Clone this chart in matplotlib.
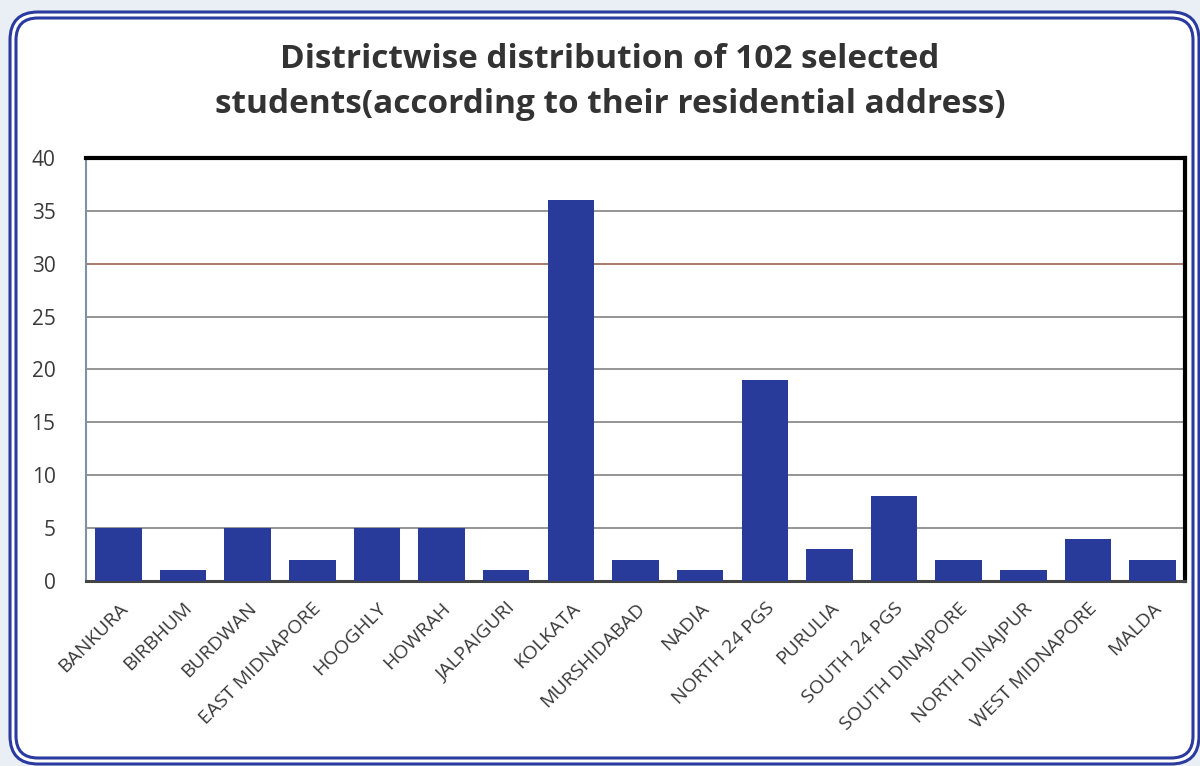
import matplotlib
matplotlib.use("Agg")
import matplotlib.pyplot as plt
from matplotlib.patches import FancyBboxPatch

districts = ["BANKURA", "BIRBHUM", "BURDWAN", "EAST MIDNAPORE", "HOOGHLY", "HOWRAH",
             "JALPAIGURI", "KOLKATA", "MURSHIDABAD", "NADIA", "NORTH 24 PGS", "PURULIA",
             "SOUTH 24 PGS", "SOUTH DINAJPORE", "NORTH DINAJPUR", "WEST MIDNAPORE", "MALDA"]
students = [5, 1, 5, 2, 5, 5, 1, 36, 2, 1, 19, 3, 8, 2, 1, 4, 2]
yticks = [0, 5, 10, 15, 20, 25, 30, 35, 40]
title = "Districtwise distribution of 102 selected\nstudents(according to their residential address)"

plt.rcParams['font.family'] = ['Open Sans', 'DejaVu Sans']
W, H = 1200, 766
fig = plt.figure(figsize=(W/100, H/100), dpi=100)
fig.patch.set_facecolor("#E9EFF4")

# white panel + double blue rounded border
def rrect(x0, y0, x1, y1, r, lw, fc="none", ec="#2B3A9E", z=-5):
    p = FancyBboxPatch((x0/W, 1-y1/H), (x1-x0)/W, (y1-y0)/H,
                       boxstyle=f"round,pad=0,rounding_size={r/W}",
                       transform=fig.transFigure, fc=fc, ec=ec, lw=lw, zorder=z,
                       mutation_aspect=W/H)
    fig.patches.append(p)

rrect(10, 12, 1199, 764, 28, 0, fc="white", ec="none", z=-6)
rrect(10, 12, 1199, 764, 28, 2.2)
rrect(16, 18, 1193, 758, 22, 2.2)

ax = fig.add_axes([86/W, 1-581/H, (1185-86)/W, (581-158)/H])
ax.set_zorder(2)
ax.patch.set_alpha(0)
x = range(len(districts))
ax.bar(x, students, width=0.72, color="#283A9A", zorder=3)
ax.set_xlim(-0.5, len(districts)-0.5)
ax.set_ylim(0, 40)
ax.set_yticks(yticks)
ax.set_yticklabels([str(v) for v in yticks], fontsize=15, color="#3A3A3A")
for v in yticks[1:-1]:
    ax.axhline(v, color="#A07060" if v == 30 else "#8C8C8C", lw=1.3, zorder=1)
ax.set_xticks(list(x))
ax.set_xticklabels(districts, rotation=45, ha="right", rotation_mode="anchor",
                   fontsize=14, color="#3A3A3A")
ax.tick_params(axis="both", length=0)
ax.tick_params(axis="y", pad=22)
ax.tick_params(axis="x", pad=13)
ax.spines["top"].set_linewidth(3)
ax.spines["top"].set_color("black")
ax.spines["right"].set_linewidth(3)
ax.spines["right"].set_color("black")
ax.spines["bottom"].set_linewidth(2.2)
ax.spines["bottom"].set_color("#444444")
ax.spines["left"].set_linewidth(1.5)
ax.spines["left"].set_color("#8090A8")

fig.text(610/W, 1-82/H, title, ha="center", va="center", fontsize=24,
         fontweight="bold", color="#333333", linespacing=1.5)

fig.savefig("out.png", dpi=100, facecolor=fig.get_facecolor())
